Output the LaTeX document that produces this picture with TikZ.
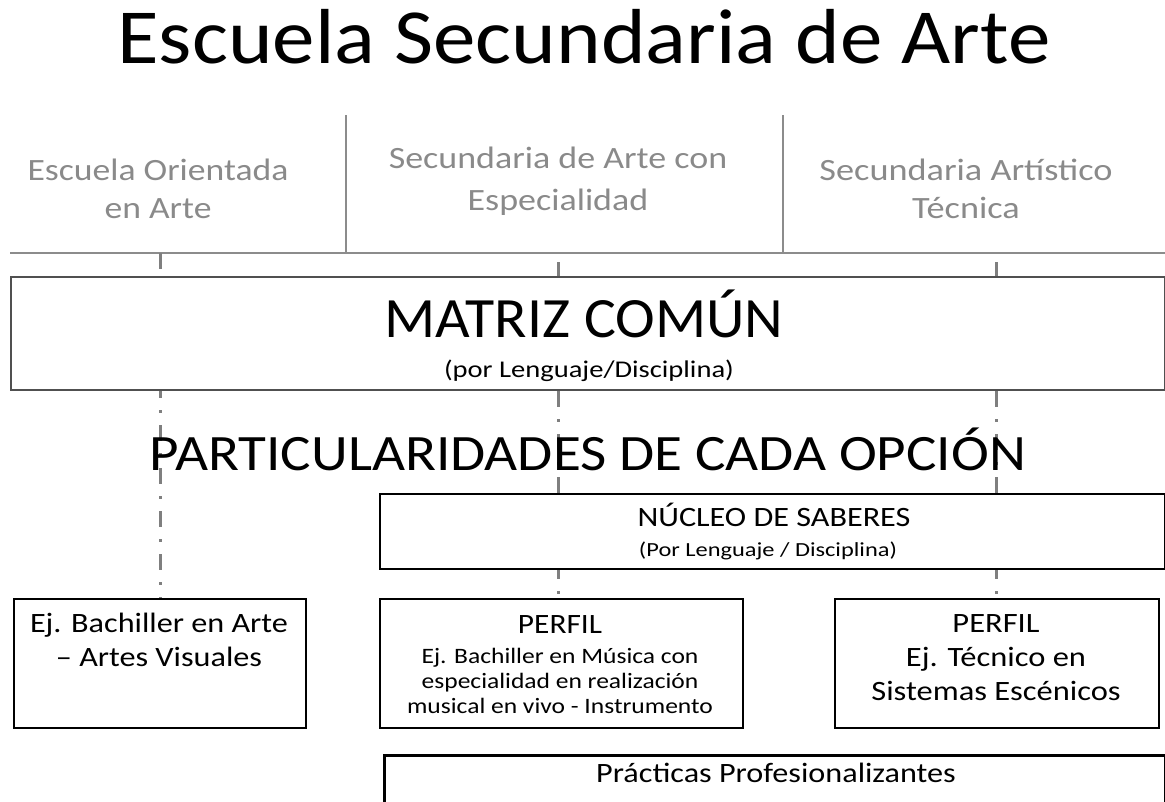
\documentclass[tikz,border=0pt]{standalone}
\usepackage{fontspec}
\setmainfont{Carlito}
\newcommand{\fsz}[3]{\fontsize{#1}{#2}\selectfont\addfontfeature{FakeStretch=#3}}
\definecolor{hdrgray}{HTML}{8A8A8A}
\definecolor{linegray}{HTML}{8C8C8C}
\definecolor{ddgray}{HTML}{7F7F7F}
\definecolor{mgray}{HTML}{505050}
\begin{document}
\begin{tikzpicture}[x=1pt,y=-1pt,
  hdr/.style={text=hdrgray, align=center, inner sep=0pt, anchor=base},
  lbl/.style={text=black, align=center, inner sep=0pt, anchor=base},
  hline/.style={draw=linegray, line width=2.5pt},
  ddline/.style={draw=ddgray, line width=3pt, dash pattern=on 16pt off 12pt on 3pt off 12pt},
  box/.style={draw=black, line width=2pt, fill=white, inner sep=0pt, anchor=north west},
  mbox/.style={draw=mgray, line width=1.6pt, fill=white, inner sep=0pt, anchor=north west}]
\useasboundingbox (0,0) rectangle (1165,801);

% header separators
\coordinate (hL) at (10,253);
\coordinate (hR) at (1165,253);
\coordinate (v1t) at (346,115);
\coordinate (v1b) at (346,253);
\coordinate (v2t) at (783,115);
\coordinate (v2b) at (783,253);
\draw[hline] (hL) -- (hR);
\draw[hline] (v1t) -- (v1b);
\draw[hline] (v2t) -- (v2b);

% connector end points
\coordinate (c1) at (160,253);
\coordinate (c2) at (558,262);
\coordinate (c3) at (996,262);
\path (c1) ++(0,345) coordinate (e1);
\path (c2) ++(0,336) coordinate (e2);
\path (c3) ++(0,336) coordinate (e3);

% dash-dot connectors
\draw[ddline] (c1) -- (e1);
\draw[ddline] (c2) -- (e2);
\draw[ddline] (c3) -- (e3);

% boxes
\node[mbox, minimum width=1154pt, minimum height=113pt] (m) at (10,276) {};
\node[box, minimum width=785pt, minimum height=75pt] (n) at (379,493) {};
\node[box, minimum width=292pt, minimum height=129pt] (b1) at (13,598) {};
\node[box, minimum width=363pt, minimum height=129pt] (b2) at (379,598) {};
\node[box, minimum width=324pt, minimum height=129pt] (b3) at (834,598) {};
\node[box, line width=2.5pt, minimum width=781pt, minimum height=50pt] (b4) at (383,754) {};

% texts
\node[lbl, font=\fsz{78}{90}{1.09}] (title) at (584,63) {Escuela Secundaria de Arte};
\node[hdr, font=\fsz{31}{38}{1.15}] (h1) at (158,218) {Escuela Orientada\\en Arte};
\node[hdr, font=\fsz{31}{42}{1.16}] (h2) at (558,210) {Secundaria de Arte con\\Especialidad};
\node[hdr, font=\fsz{31}{38}{1.17}] (h3) at (966,218) {Secundaria Artístico\\Técnica};

\node[lbl, font=\fsz{57}{66}{1.05}] (mt) at (584,337) {MATRIZ COMÚN};
\node[lbl, font=\fsz{24}{28}{1.19}] (ms) at (589,377) {(por Lenguaje/Disciplina)};

\node[lbl, font=\fsz{51}{60}{1.12}] (part) at (588,470) {PARTICULARIDADES DE CADA OPCIÓN};

\node[lbl, font=\fsz{28}{32}{1.15}] (nt) at (774,526) {NÚCLEO DE SABERES};
\node[lbl, font=\fsz{20}{24}{1.22}] (ns) at (768,556) {(Por Lenguaje / Disciplina)};

\node[lbl, font=\fsz{28}{34}{1.15}] (t1) at (159,666) {Ej. Bachiller en Arte\\– Artes Visuales};
\node[lbl, font=\fsz{28}{32}{1.12}] (t2a) at (560,633) {PERFIL};
\node[lbl, font=\fsz{22}{25}{1.16}] (t2b) at (560,713) {Ej. Bachiller en Música con\\especialidad en realización\\musical en vivo - Instrumento};
\node[lbl, font=\fsz{28}{34}{1.16}] (t3) at (996,700) {PERFIL\\Ej. Técnico en\\Sistemas Escénicos};
\node[lbl, font=\fsz{28}{32}{1.15}] (t4) at (776,782) {Prácticas Profesionalizantes};
\end{tikzpicture}
\end{document}
